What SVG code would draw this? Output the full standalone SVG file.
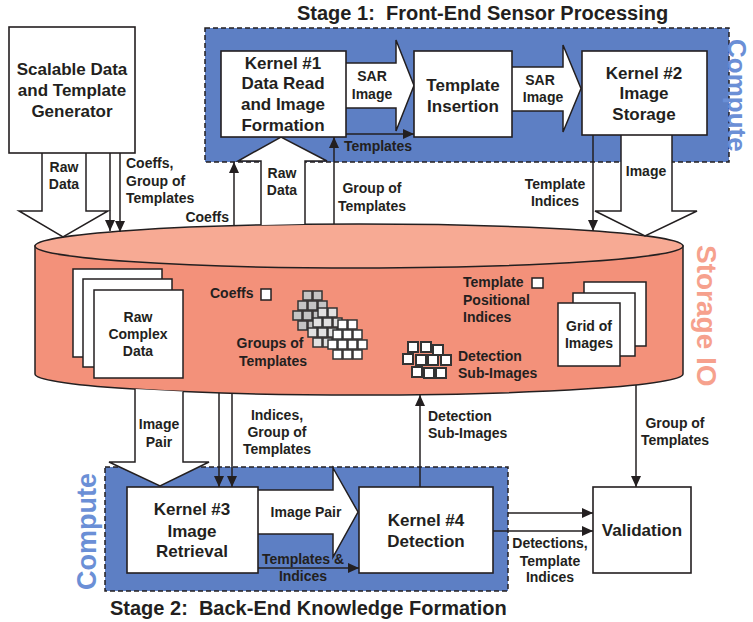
<svg xmlns="http://www.w3.org/2000/svg" width="753" height="622" viewBox="0 0 753 622">
<defs>
<style>
.box{fill:#fff;stroke:#231f20;stroke-width:1.6}
.stage{fill:#5d7fc4;stroke:#231f20;stroke-width:1.5;stroke-dasharray:5 3}
.t{font-family:"Liberation Sans",Arial,sans-serif;font-weight:bold;fill:#231f20}
.n{font-size:17px;text-anchor:middle}
.s{font-size:14px}
.m{text-anchor:middle}
.e{text-anchor:end}
.ttl{font-size:20px}
.cmp{font-family:"Liberation Sans",Arial,sans-serif;font-weight:bold;font-size:27px;fill:#6b8fd6}
.sio{font-family:"Liberation Sans",Arial,sans-serif;font-weight:bold;font-size:28px;fill:#f6a18d}
.ln{stroke:#231f20;stroke-width:1.5;fill:none}
.ar{marker-end:url(#ah)}
.big{fill:#fff;stroke:#231f20;stroke-width:1.5;stroke-linejoin:miter}
.pg{fill:#fff;stroke:#231f20;stroke-width:1.5}
.sq{stroke:#333;stroke-width:1.5}
.dsq{fill:#fff;stroke:#333;stroke-width:2}
</style>
<marker id="ah" markerUnits="userSpaceOnUse" markerWidth="11" markerHeight="10" refX="11" refY="5" orient="auto">
<path d="M0,0 L11,5 L0,10 z" fill="#231f20"/>
</marker>
<g id="cluster">
<rect class="sq" x="10" y="0" width="9" height="9"/><rect class="sq" x="20" y="0" width="9" height="9"/>
<rect class="sq" x="5" y="10" width="9" height="9"/><rect class="sq" x="15" y="10" width="9" height="9"/><rect class="sq" x="25" y="10" width="9" height="9"/>
<rect class="sq" x="0" y="20" width="9" height="9"/><rect class="sq" x="10" y="20" width="9" height="9"/><rect class="sq" x="20" y="20" width="9" height="9"/><rect class="sq" x="30" y="20" width="9" height="9"/>
<rect class="sq" x="5" y="30" width="9" height="9"/><rect class="sq" x="15" y="30" width="9" height="9"/><rect class="sq" x="25" y="30" width="9" height="9"/>
</g>
</defs>

<!-- Stage 1 -->
<g id="stage1">
<rect class="stage" x="205" y="28" width="524" height="134"/>
<text class="t ttl" x="297" y="20" xml:space="preserve">Stage 1:  Front-End Sensor Processing</text>
<text class="cmp" style="font-size:26px" transform="translate(728,39) rotate(90)">Compute</text>
</g>

<!-- Stage 2 -->
<g id="stage2">
<rect class="stage" x="105" y="467" width="403" height="124"/>
<text class="t ttl" x="110" y="615" xml:space="preserve">Stage 2:  Back-End Knowledge Formation</text>
<text class="cmp" transform="translate(96,590) rotate(-90)">Compute</text>
</g>

<!-- Storage cylinder -->
<g id="storage">
<path d="M35,246 L35,374 A324,21 0 0 0 683,374 L683,246 Z" fill="#f3917a" stroke="#231f20" stroke-width="1.5"/>
<ellipse cx="359" cy="246" rx="324" ry="22" fill="#f7aa94" stroke="#231f20" stroke-width="1.5"/>
<text class="sio" transform="translate(697,245) rotate(90)">Storage IO</text>
<g id="raw-complex-data">
<rect class="pg" x="73" y="269" width="89" height="88"/>
<rect class="pg" x="83" y="279" width="89" height="88"/>
<rect class="pg" x="94" y="290" width="89" height="88"/>
<text class="t s m" x="138" y="322">Raw</text>
<text class="t s m" x="138" y="339">Complex</text>
<text class="t s m" x="138" y="356">Data</text>
</g>
<g id="coeffs">
<text class="t s" x="210" y="298">Coeffs</text>
<rect class="pg" x="261" y="289" width="10" height="11"/>
</g>
<g id="groups-of-templates">
<use href="#cluster" x="293" y="291" fill="#c4c4c4"/>
<use href="#cluster" x="308" y="308" fill="#e2e2e2"/>
<use href="#cluster" x="328" y="320" fill="#ffffff"/>
<text class="t s m" x="270" y="348">Groups of</text>
<text class="t s m" x="273" y="366">Templates</text>
</g>
<g id="template-positional-indices">
<text class="t s" x="463" y="287">Template</text>
<rect class="pg" x="532" y="278" width="11" height="10"/>
<text class="t s" x="463" y="305">Positional</text>
<text class="t s" x="463" y="322">Indices</text>
</g>
<g id="detection-sub-images">
<rect class="dsq" x="408" y="342" width="10" height="10"/>
<rect class="dsq" x="421" y="342" width="10" height="10"/>
<rect class="dsq" x="433" y="345" width="10" height="10"/>
<rect class="dsq" x="403" y="354" width="10" height="10"/>
<rect class="dsq" x="416" y="355" width="10" height="10"/>
<rect class="dsq" x="428" y="355" width="10" height="10"/>
<rect class="dsq" x="441" y="355" width="10" height="10"/>
<rect class="dsq" x="412" y="367" width="10" height="10"/>
<rect class="dsq" x="424" y="368" width="10" height="10"/>
<rect class="dsq" x="436" y="368" width="10" height="10"/>
<text class="t s" x="458" y="361">Detection</text>
<text class="t s" x="458" y="378">Sub-Images</text>
</g>
<g id="grid-of-images">
<rect class="pg" x="584" y="282" width="62" height="64"/>
<rect class="pg" x="573" y="293" width="62" height="63"/>
<rect class="pg" x="558" y="303" width="62" height="63"/>
<text class="t s m" x="589" y="331">Grid of</text>
<text class="t s m" x="589" y="348">Images</text>
</g>
</g>

<!-- Connectors -->
<g id="connectors">
<path class="big" d="M42,153 L42,211 L19,211 L63,237 L108,211 L86,211 L86,153"/>
<line class="ln ar" x1="110" y1="153" x2="110" y2="231"/>
<line class="ln ar" x1="120" y1="153" x2="120" y2="232"/>
<line class="ln ar" x1="234" y1="226" x2="234" y2="162"/>
<path class="big" d="M261,225 L261,161 L238,161 L281,137 L327,161 L305,161 L305,224"/>
<line class="ln ar" x1="334" y1="224" x2="334" y2="137"/>
<path class="big" d="M346,63 L396,63 L396,40 L414,85.5 L396,131 L396,108 L346,108"/>
<line class="ln ar" x1="346" y1="134" x2="414" y2="134"/>
<path class="big" d="M512,67 L563,67 L563,45 L581,88.5 L563,132 L563,111 L512,111"/>
<line class="ln ar" x1="593" y1="135" x2="593" y2="231"/>
<path class="big" d="M621,135 L621,211 L595,211 L645,236 L697,211 L672,211 L672,135"/>
<path class="big" d="M135,389 L135,462 L109,462 L160,486 L209,462 L183,462 L183,391.5"/>
<line class="ln ar" x1="219" y1="393" x2="219" y2="487"/>
<line class="ln ar" x1="232" y1="393.5" x2="232" y2="487"/>
<path class="big" d="M258,490 L333,490 L333,468 L358,512 L333,557 L333,534 L258,534"/>
<line class="ln ar" x1="258" y1="568" x2="359" y2="568"/>
<line class="ln ar" x1="420" y1="487" x2="420" y2="395"/>
<line class="ln ar" x1="636" y1="385" x2="636" y2="487"/>
<line class="ln ar" x1="508" y1="513" x2="593" y2="513"/>
<line class="ln ar" x1="493" y1="531" x2="593" y2="531"/>
<text class="t s m" x="64" y="172">Raw</text>
<text class="t s m" x="64" y="189">Data</text>
<text class="t s" x="126" y="168">Coeffs,</text>
<text class="t s" x="126" y="186">Group of</text>
<text class="t s" x="126" y="203">Templates</text>
<text class="t s e" x="229" y="222">Coeffs</text>
<text class="t s m" x="282" y="178">Raw</text>
<text class="t s m" x="282" y="195">Data</text>
<text class="t s m" x="372" y="193">Group of</text>
<text class="t s m" x="372" y="211">Templates</text>
<text class="t s m" x="378" y="151">Templates</text>
<text class="t s m" x="372" y="81">SAR</text>
<text class="t s m" x="372" y="99">Image</text>
<text class="t s m" x="540" y="85">SAR</text>
<text class="t s m" x="543" y="102">Image</text>
<text class="t s m" x="555" y="189">Template</text>
<text class="t s m" x="555" y="206">Indices</text>
<text class="t s m" x="646" y="176">Image</text>
<text class="t s m" x="159" y="429">Image</text>
<text class="t s m" x="159" y="447">Pair</text>
<text class="t s m" x="277" y="420">Indices,</text>
<text class="t s m" x="277" y="437">Group of</text>
<text class="t s m" x="277" y="454">Templates</text>
<text class="t s m" x="306" y="517">Image Pair</text>
<text class="t s m" x="303" y="564">Templates &amp;</text>
<text class="t s m" x="303" y="581">Indices</text>
<text class="t s" x="428" y="421">Detection</text>
<text class="t s" x="428" y="438">Sub-Images</text>
<text class="t s m" x="675" y="428">Group of</text>
<text class="t s m" x="675" y="445">Templates</text>
<text class="t s m" x="550" y="548">Detections,</text>
<text class="t s m" x="550" y="566">Template</text>
<text class="t s m" x="550" y="582">Indices</text>
</g>

<!-- Nodes -->
<g id="generator">
<rect class="box" x="9" y="27" width="126" height="126"/>
<text class="t n" x="72" y="75">Scalable Data</text>
<text class="t n" x="72" y="96">and Template</text>
<text class="t n" x="72" y="117">Generator</text>
</g>
<g id="kernel1">
<rect class="box" x="221" y="51" width="125" height="86"/>
<text class="t n" x="283" y="69">Kernel #1</text>
<text class="t n" x="283" y="89">Data Read</text>
<text class="t n" x="283" y="110">and Image</text>
<text class="t n" x="283" y="131">Formation</text>
</g>
<g id="template-insertion">
<rect class="box" x="414" y="51" width="98" height="86"/>
<text class="t n" x="463" y="91">Template</text>
<text class="t n" x="463" y="112">Insertion</text>
</g>
<g id="kernel2">
<rect class="box" x="582" y="51" width="125" height="84"/>
<text class="t n" x="644" y="79">Kernel #2</text>
<text class="t n" x="644" y="99">Image</text>
<text class="t n" x="644" y="120">Storage</text>
</g>
<g id="kernel3">
<rect class="box" x="127" y="487" width="131" height="86"/>
<text class="t n" x="192" y="515">Kernel #3</text>
<text class="t n" x="192" y="537">Image</text>
<text class="t n" x="192" y="557">Retrieval</text>
</g>
<g id="kernel4">
<rect class="box" x="359" y="487" width="134" height="86"/>
<text class="t n" x="426" y="526">Kernel #4</text>
<text class="t n" x="426" y="547">Detection</text>
</g>
<g id="validation">
<rect class="box" x="593" y="487" width="98" height="86"/>
<text class="t n" x="642" y="536">Validation</text>
</g>
</svg>
